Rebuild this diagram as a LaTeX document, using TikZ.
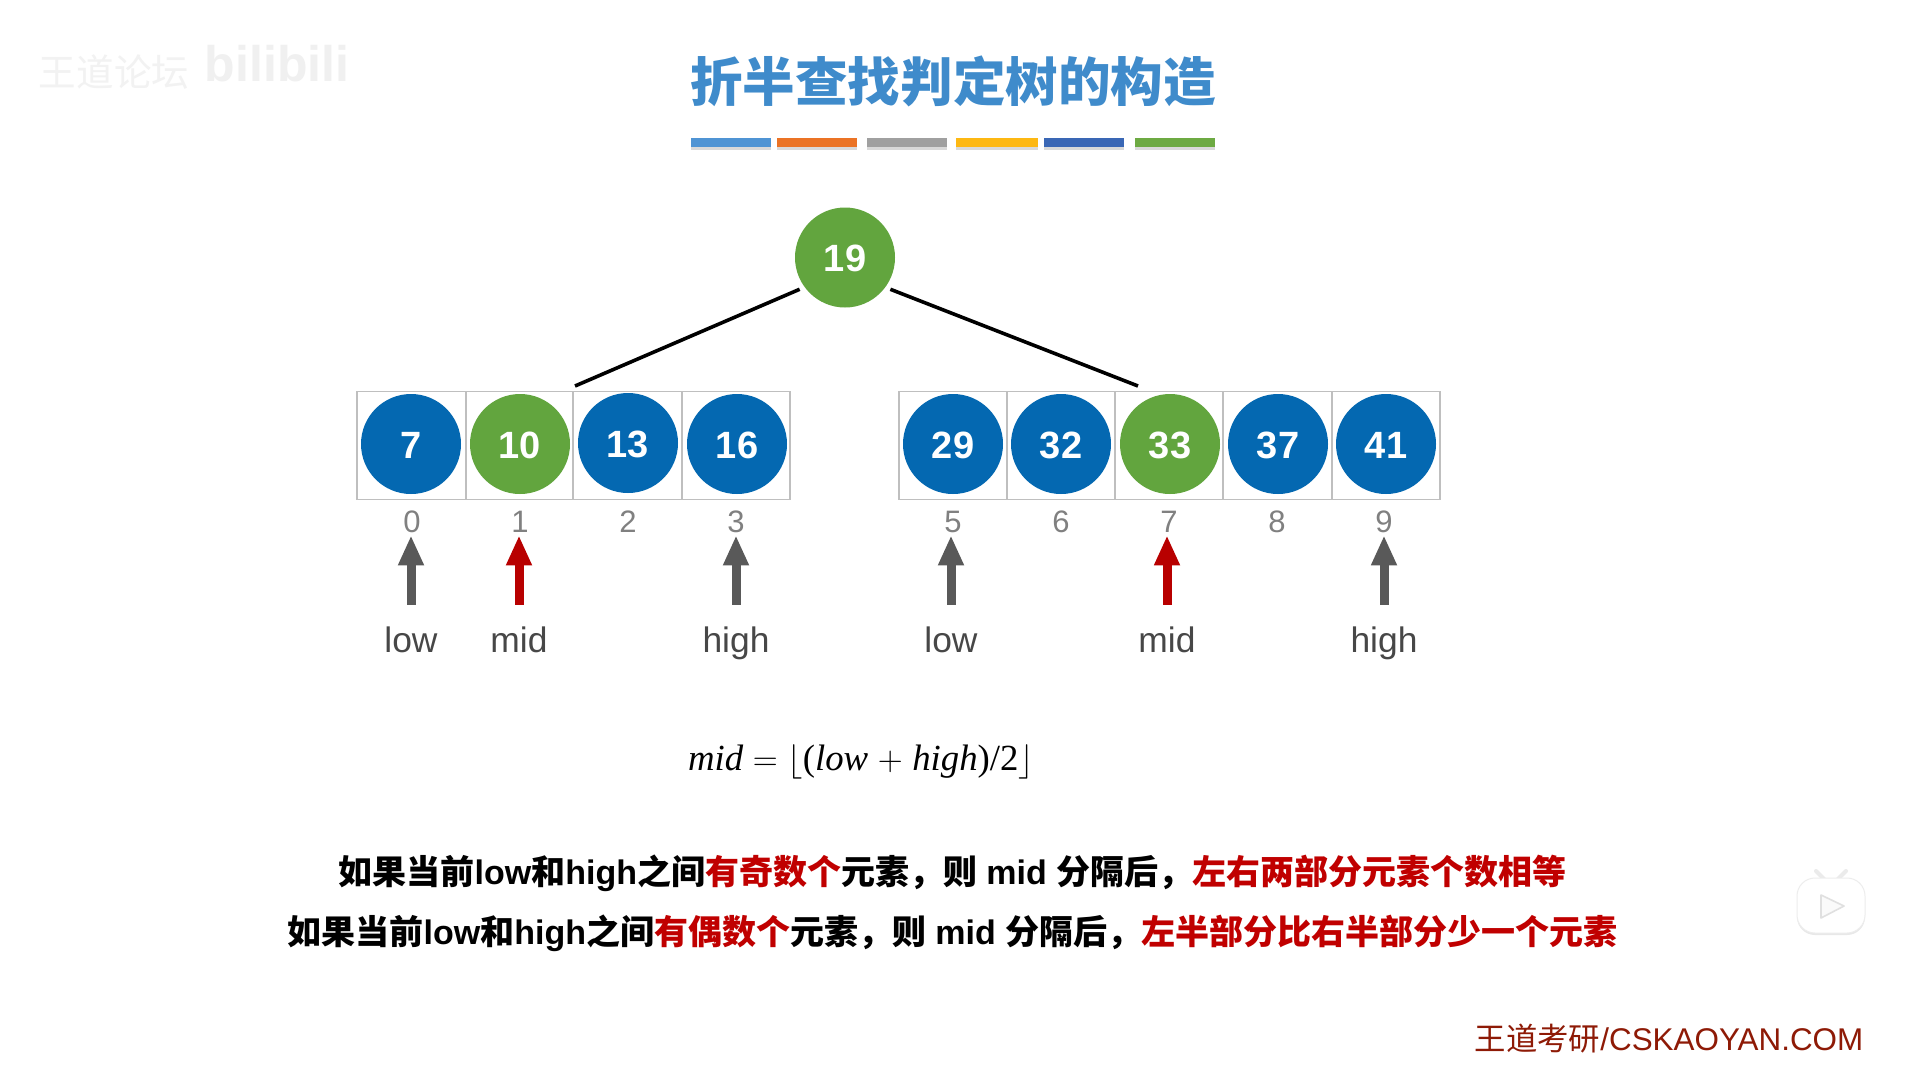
\documentclass[tikz,border=0pt]{standalone}
\usepackage{fontspec}
\setmainfont{Liberation Sans}
\newfontfamily\cjk{Noto Sans CJK SC}
\newfontfamily\tms{Liberation Serif}
\usetikzlibrary{arrows.meta}
\definecolor{titleblue}{HTML}{3F8BCB}
\definecolor{nodeblue}{HTML}{0468B1}
\definecolor{nodegreen}{HTML}{62A53E}
\definecolor{darkred}{HTML}{C00000}
\definecolor{ptrred}{HTML}{B80000}
\definecolor{footred}{HTML}{8E1A06}
\definecolor{arrowgray}{HTML}{595959}
\newcommand{\fsz}[1]{\fontsize{#1}{#1}\selectfont}
\newcommand{\zh}[1]{{\cjk #1}}
\newcommand{\rd}[1]{{\color{darkred}\cjk #1}}
\tikzset{
  circ/.style={circle,minimum size=50pt,inner sep=0pt,text=white,font=\fsz{19}\bfseries,text height=14.2pt,text depth=0pt},
  bluec/.style={circ,fill=nodeblue},
  greenc/.style={circ,fill=nodegreen},
  cell/.style={rectangle,draw=black!25,line width=0.75pt,minimum width=54.2pt,minimum height=54pt,inner sep=0pt},
  idx/.style={minimum height=13pt,inner sep=0pt,text=black!50,font=\fsz{15.5}},
  lbl/.style={minimum height=35pt,inner sep=0pt,text=black!72,font=\fsz{17.7},text height=15pt,text depth=2.5pt},
  ptr/.style={line width=4.5pt,-{Triangle[width=12pt,length=15pt]}},
  grayptr/.style={ptr,draw=arrowgray},
  redptr/.style={ptr,draw=ptrred},
  edge/.style={line width=1.8pt,draw=black},
  bar/.style={minimum width=33pt,minimum height=4.5pt,inner sep=0pt},
}
\begin{document}
\begin{tikzpicture}[x=0.5pt,y=-0.5pt]
\useasboundingbox (0,0) rectangle (1907,1067);
\fill[white] (0,0) rectangle (1907,1067);
% faint watermark
\node[text=black!5,font=\fsz{18.8}\cjk] (wm1) at (114,72) {王道论坛};
\node[text=black!6,font=\fsz{25}\bfseries] (wm2) at (277,64) {bilibili};
% title
\node[text=titleblue,font=\fsz{26.3}\cjk\bfseries] (title) at (953,81) {折半查找判定树的构造};
\foreach \n/\x/\w/\c in {b1/730.5/40/4F94D4,b2/817/40/EB7325,b3/907/40/A0A0A0,b4/997/41/FDB813,b5/1084/40/3A67B5,b6/1175/40/6DAA43}{
  \definecolor{barc}{HTML}{\c}
  \node[bar,minimum width=\w pt,fill=black!15] at (\x,145.5) {};
  \node[bar,minimum width=\w pt,fill=barc] (\n) at (\x,142.5) {};
}
% cells
\foreach \n/\x/\w in {c0/411.5/54.5,c1/519.5/53.5,c2/627.5/54.5,c3/736/54,c5/953/54,c6/1061/54,c7/1169/54,c8/1277.5/54.5,c9/1386/54}{
  \node[cell,minimum width=\w pt] (\n) at (\x,445.5) {};
}
% tree nodes
\node[greenc] (root) at (845,257.5) {19};
\node[bluec] (n0) at (411,444) {7};
\node[greenc] (n1) at (520,444) {10};
\node[bluec] (n2) at (628,443) {13};
\node[bluec] (n3) at (737,444) {16};
\node[bluec] (n5) at (953,444) {29};
\node[bluec] (n6) at (1061,444) {32};
\node[greenc] (n7) at (1170,444) {33};
\node[bluec] (n8) at (1278,444) {37};
\node[bluec] (n9) at (1386,444) {41};
% connectors
\coordinate (lend) at (575,386);
\coordinate (rend) at (1138,386);
\node[circle,minimum size=55pt,inner sep=0pt] (rootb) at (root) {};
\draw[edge] (rootb.215) -- (lend);
\draw[edge] (rootb.-35) -- (rend);
% indices
\foreach \n/\x/\t in {i0/412/0,i1/520/1,i2/628/2,i3/736/3,i5/953/5,i6/1061/6,i7/1169/7,i8/1277/8,i9/1384/9}{
  \node[idx] (\n) at (\x,522) {\t};
}
% labels
\node[lbl] (l0) at (411,640) {low};
\node[lbl] (l1) at (519,640) {mid};
\node[lbl] (l3) at (736,640) {high};
\node[lbl] (l5) at (951,640) {low};
\node[lbl] (l7) at (1167,640) {mid};
\node[lbl] (l9) at (1384,640) {high};
% pointers
\draw[grayptr] (l0.north) -- (l0.north |- i0.south);
\draw[redptr] (l1.north) -- (l1.north |- i1.south);
\draw[grayptr] (l3.north) -- (l3.north |- i3.south);
\draw[grayptr] (l5.north) -- (l5.north |- i5.south);
\draw[redptr] (l7.north) -- (l7.north |- i7.south);
\draw[grayptr] (l9.north) -- (l9.north |- i9.south);
% formula
\node[text=black,font=\fsz{18.4}\tms] (formula) at (861,762) {\textit{mid}$\;=\lfloor$(\textit{low}$\;+\;$\textit{high})/2$\rfloor$};
% explanation
\node[font=\fsz{17}\bfseries] (line1) at (952.5,873.5) {\zh{如果当前}low\zh{和}high\zh{之间}\rd{有奇数个}\zh{元素，则} mid \zh{分隔后，}\rd{左右两部分元素个数相等}};
\node[font=\fsz{17}\bfseries] (line2) at (952.5,933.5) {\zh{如果当前}low\zh{和}high\zh{之间}\rd{有偶数个}\zh{元素，则} mid \zh{分隔后，}\rd{左半部分比右半部分少一个元素}};
% footer
\node[text=footred,font=\fsz{15.7}] (foot) at (1669,1039) {\zh{王道考研}/CSKAOYAN.COM};
% player icon
\draw[draw=black!8,line width=2pt,line cap=round] (1825,880) -- (1816,871) (1837,880) -- (1846,871);
\fill[black!9,rounded corners=9pt] (1797,881) rectangle (1865,935);
\fill[white,rounded corners=9pt] (1797,878) rectangle (1865,933);
\draw[draw=black!7,line width=0.5pt,rounded corners=9pt] (1797,878) rectangle (1865,933);
\draw[draw=black!12,fill=black!2,line width=0.8pt,line join=round] (1821,895) -- (1844,906) -- (1821,918) -- cycle;
\end{tikzpicture}
\end{document}
